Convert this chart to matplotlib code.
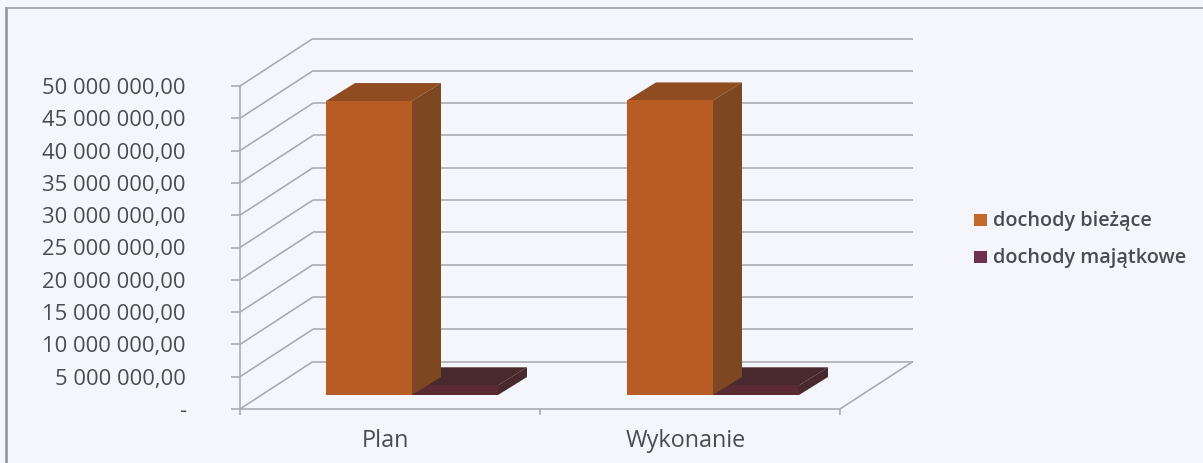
import matplotlib
matplotlib.use("Agg")
import matplotlib.pyplot as plt
from matplotlib.patches import Rectangle

W, H = 1203, 463
categories = ["Plan", "Wykonanie"]
series_names = ["dochody bieżące", "dochody majątkowe"]
dochody_biezace = [45500000, 45600000]
dochody_majatkowe = [1500000, 1500000]
y_ticks = list(range(0, 50000001, 5000000))

BG = "#f5f6fb"; GRID = "#a8aaae"; TXT = "#4b4b52"
FONT = "Open Sans"
FRONT = ["#b85c26", "#5c2a33"]
SIDE = ["#7d4722", "#48292d"]
TOP = ["#8f4c20", "#48292d"]
LEG = ["#c2682a", "#6e3050"]

fig = plt.figure(figsize=(W/100, H/100), dpi=100, facecolor=BG)
# axes spans the plot's front plane: x 240..840 px, y 409..86 px
ax = fig.add_axes([240/W, 1-409/H, 600/W, 323/H])
ax.set_xlim(0, 2); ax.set_ylim(0, 50000000)
ax.patch.set_alpha(0)
for s in ax.spines.values():
    s.set_visible(False)

PX = 2/600; PY = 50000000/323
DX, DY = 73*PX, 47.5*PY

def poly(xs, ys, c, z):
    ax.fill(xs, ys, color=c, lw=0, zorder=z, clip_on=False)

def line(xs, ys, lw=1.15, z=1, c=GRID):
    ax.plot(xs, ys, color=c, lw=lw, zorder=z, clip_on=False, solid_capstyle="butt")

for v in y_ticks:
    line([0, DX], [v, v+DY])
    line([DX, 2+DX], [v+DY, v+DY])
    line([-9*PX, 0], [v, v])
line([0, 0], [0, 50000000])
line([0, 2], [0, 0])
line([2, 2+DX], [0, DY])
for x in [0, 1, 2]:
    line([x, x], [0, -6*PY])

def bar3d(x0, v, i, z):
    yb = 14*PY  # depth of the bar's front face above the front floor edge
    bw, dx, dy = 86*PX, 29*PX, 18*PY
    x1 = x0 + bw
    poly([x0, x1, x1+dx, x0+dx], [yb+v, yb+v, yb+v+dy, yb+v+dy], TOP[i], z)
    poly([x1, x1+dx, x1+dx, x1], [yb, yb+dy, yb+v+dy, yb+v], SIDE[i], z)
    poly([x0, x1, x1, x0], [yb, yb, yb+v, yb+v], FRONT[i], z+1)

for k in range(2):
    x0 = k + 86*PX + k*1*PX
    bar3d(x0 + 86*PX, dochody_majatkowe[k], 1, 3+2*k)
    bar3d(x0, dochody_biezace[k], 0, 5+2*k)

ax.set_xticks([])
ax.set_yticks([])
for v in y_ticks:
    lab = "-" if v == 0 else f"{v:,.2f}".replace(",", " ").replace(".", ",")
    ax.text(-54*PX, v - 2.5*PY, lab, ha="right", va="center", fontsize=15.8, color=TXT, family=FONT, clip_on=False)
for k, c in enumerate(categories):
    ax.text(k+0.5-0.015, -32*PY, c, ha="center", va="center", fontsize=16.8, color=TXT, family=FONT, clip_on=False)

# legend
for i, (name, yy) in enumerate(zip(series_names, [220, 257])):
    fig.patches.append(Rectangle((974/W, 1-(yy+6)/H), 13/W, 12/H, transform=fig.transFigure, fc=LEG[i], lw=0))
    fig.text(993/W, 1-(yy+1)/H, name, ha="left", va="center", fontsize=14.3, color=TXT, family=FONT, fontweight="semibold")

# outer frame
fig.add_artist(plt.Line2D([6/W, 6/W], [1-8/H, 0], color="#8d8f94", lw=1.8))
fig.add_artist(plt.Line2D([6/W, 1], [1-8/H, 1-8/H], color="#a0a2a8", lw=1.2))
fig.savefig("out.png", dpi=100, facecolor=BG)
